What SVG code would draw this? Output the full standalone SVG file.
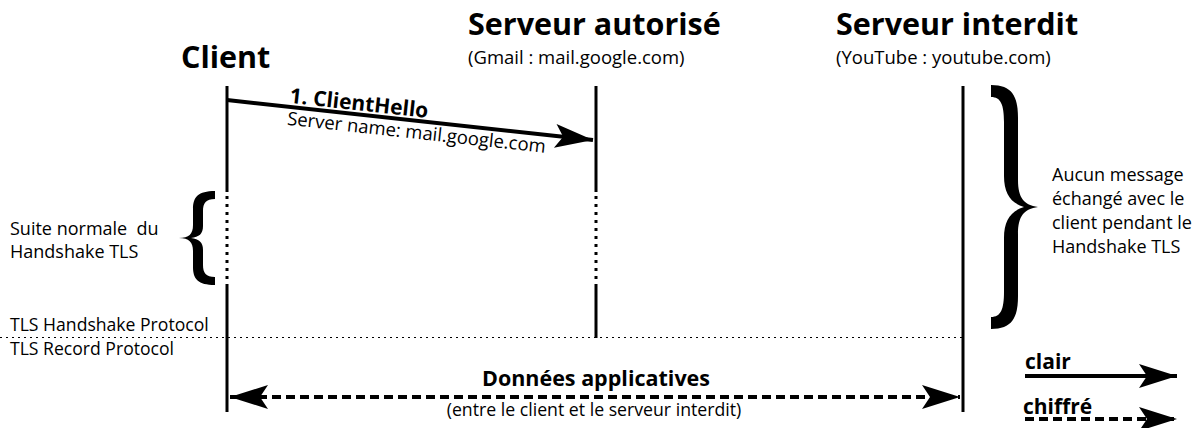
<svg xmlns="http://www.w3.org/2000/svg" width="1198" height="428" viewBox="0 0 1198 428">
<style>
text{font-family:"Open Sans","Noto Sans","Liberation Sans",sans-serif;fill:#000}
.h{font-size:30.5px;font-weight:bold}
.sub{font-size:18.5px}
.lbl{font-size:18px}
.b{font-weight:bold}
.life{stroke:#000;stroke-width:3;fill:none}
.dot{stroke:#000;stroke-width:3;stroke-dasharray:3 5;fill:none}
.msg{stroke:#000;stroke-width:4;fill:none}
.dash{stroke:#000;stroke-width:4;stroke-dasharray:9 5;fill:none}
</style>
<defs>
<marker id="ah" markerUnits="userSpaceOnUse" viewBox="-40 -14 42 28" refX="0" refY="0" markerWidth="42" markerHeight="28" orient="auto">
<path d="M0,0 L-38,-12 L-30,0 L-38,12 Z" fill="#000"/>
</marker>
<marker id="ahs" markerUnits="userSpaceOnUse" viewBox="-40 -14 42 28" refX="0" refY="0" markerWidth="42" markerHeight="28" orient="auto-start-reverse">
<path d="M0,0 L-38,-12 L-30,0 L-38,12 Z" fill="#000"/>
</marker>
</defs>
<g id="client">
<text class="h" x="181" y="68">Client</text>
<path class="life" d="M227,86 V192 M227,285 V412"/>
<path class="dot" d="M227,196 V285"/>
</g>
<g id="serveur-autorise">
<text class="h" x="468" y="35">Serveur autorisé</text>
<text class="sub" x="468" y="64">(Gmail : mail.google.com)</text>
<path class="life" d="M596,86 V192 M596,285 V338"/>
<path class="dot" d="M596,196 V285"/>
</g>
<g id="serveur-interdit">
<text class="h" x="836" y="35">Serveur interdit</text>
<text class="sub" x="836" y="64">(YouTube : youtube.com)</text>
<path class="life" d="M963,86 V412"/>
</g>
<g id="annotations">
<path d="M0,337.5 H963" stroke="#000" stroke-width="1" stroke-dasharray="2 4"/>
<text x="10" y="331" font-size="17.6">TLS Handshake Protocol</text>
<text x="10" y="355" font-size="17.6">TLS Record Protocol</text>
<text class="lbl" x="10" y="235" xml:space="preserve">Suite normale  du</text>
<text class="lbl" x="10" y="258">Handshake TLS</text>
<path d="M215,191 C198,191 193,197 193,209 L193,225 C193,234 189,238 179,238 C189,238 193,242 193,251 L193,267 C193,279 198,285 215,285 L215,277 C206,277 203,273 203,265 L203,250 C203,242 199,239 191,238 C199,237 203,234 203,226 L203,211 C203,203 206,199 215,199 Z" fill="#000"/>
<path d="M991,85 C1012,85 1018,96 1018,118 L1018,180 C1018,198 1024,205 1038,207 C1024,209 1018,216 1018,234 L1018,296 C1018,318 1012,329 991,329 L991,317 C1001,317 1004,309 1004,292 L1004,238 C1004,220 1011,211 1024,207 C1011,203 1004,194 1004,176 L1004,122 C1004,105 1001,97 991,97 Z" fill="#000"/>
<text class="lbl" x="1052" y="181">Aucun message</text>
<text class="lbl" x="1052" y="205">échangé avec le</text>
<text class="lbl" x="1052" y="229">client pendant le</text>
<text class="lbl" x="1052" y="253">Handshake TLS</text>
</g>
<g id="connectors">
<path class="msg" d="M227,100 L593,140" marker-end="url(#ah)"/>
<g transform="rotate(6.24 227 100)">
<text class="b" x="289" y="96" font-size="21">1. ClientHello</text>
<text x="289" y="118" font-size="18.5">Server name: mail.google.com</text>
</g>
<path class="dash" d="M230,397 H960" marker-start="url(#ahs)" marker-end="url(#ahs)"/>
<text class="b" x="596" y="386" font-size="21.5" text-anchor="middle">Données applicatives</text>
<text x="594" y="416" font-size="17.7" text-anchor="middle">(entre le client et le serveur interdit)</text>
</g>
<g id="legend">
<text class="b" x="1025" y="369" font-size="21">clair</text>
<path class="msg" d="M1025,376 H1177" marker-end="url(#ah)"/>
<text class="b" x="1023" y="414" font-size="21">chiffré</text>
<path class="dash" d="M1025,419 H1177" marker-end="url(#ah)"/>
</g>
</svg>
